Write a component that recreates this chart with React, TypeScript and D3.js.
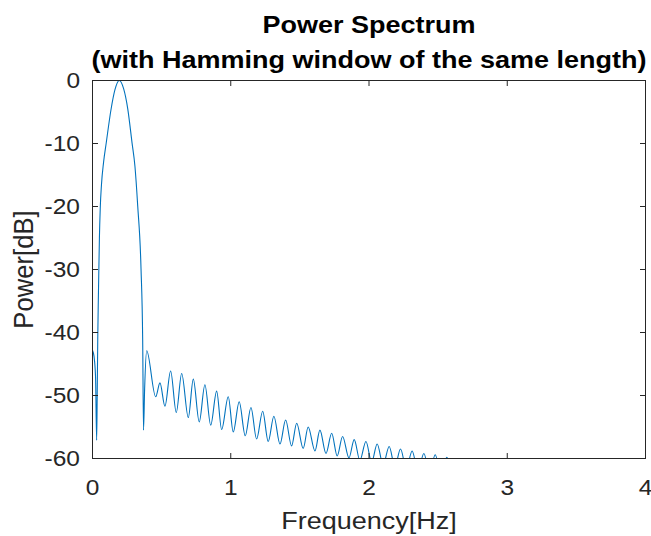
import React from 'react';
import * as d3 from 'd3';

// Main lobe readings (frequency in Hz, power in dB)
const mainLobeHz = [0, 0.011, 0.022, 0.030, 0.034, 0.038, 0.042, 0.046, 0.050, 0.056, 0.065, 0.080, 0.100, 0.134, 0.162, 0.194, 0.225, 0.255, 0.286, 0.307, 0.327, 0.351, 0.363, 0.369, 0.377];
const mainLobeDb = [-42.8, -43.8, -47.0, -57.1, -50.0, -41.0, -35.0, -29.9, -25.0, -20.3, -16.5, -13.0, -9.8, -4.6, -1.5, 0, -1.3, -4.5, -9.9, -13.6, -19.9, -29.9, -41.2, -55.5, -49.0];

// Side-lobe peaks
const peakHz = [0.392, 0.488, 0.565, 0.645, 0.729, 0.813, 0.898, 0.982, 1.061, 1.146, 1.231, 1.312, 1.397, 1.477, 1.560, 1.645, 1.730, 1.809, 1.893, 1.978, 2.059, 2.146, 2.228, 2.312, 2.397, 2.479, 2.563, 2.647];
const peakDb = [-42.9, -48.0, -46.1, -46.5, -47.4, -48.3, -49.3, -50.2, -51.0, -51.9, -52.5, -53.3, -53.9, -54.4, -55.0, -55.5, -56.0, -56.5, -57.0, -57.3, -57.7, -58.1, -58.5, -58.8, -59.2, -59.4, -59.8, -60.4];

// Side-lobe nulls
const nullHz = [0.457, 0.524, 0.606, 0.693, 0.772, 0.855, 0.934, 1.018, 1.105, 1.187, 1.271, 1.356, 1.440, 1.524, 1.609, 1.689, 1.770, 1.855, 1.934, 2.019, 2.102, 2.187, 2.270, 2.354, 2.438, 2.521, 2.605, 2.690];
const nullDb = [-50.2, -51.7, -52.7, -53.5, -54.2, -54.7, -55.4, -55.8, -56.4, -56.9, -57.3, -57.7, -58.0, -58.4, -58.8, -59.2, -59.6, -59.9, -60.3, -60.6, -61.0, -61.3, -61.6, -62.0, -62.3, -62.7, -63.0, -63.4];

const xTicks = [0, 1, 2, 3, 4];
const yTicks = [0, -10, -20, -30, -40, -50, -60];

const titleLines = ['Power Spectrum', '(with Hamming window of the same length)'];
const xLabel = 'Frequency[Hz]';
const yLabel = 'Power[dB]';

const W = 651;
const H = 536;
const L = 92.5, R = 645.5, T = 80.5, B = 458.5;
const FONT = "'Liberation Sans', Arial, Helvetica, sans-serif";
const SQ = 0.87;
const AX = '#262626';

export default function App() {
  const x = d3.scaleLinear().domain([0, 4]).range([L, R]);
  const y = d3.scaleLinear().domain([-60, 0]).range([B, T]);

  const pts: [number, number][] = [];
  mainLobeHz.forEach((f, i) => pts.push([f, mainLobeDb[i]]));
  peakHz.forEach((f, i) => pts.push([f, peakDb[i]]));
  nullHz.forEach((f, i) => pts.push([f, nullDb[i]]));
  pts.sort((a, b) => a[0] - b[0]);

  const line = d3.line<[number, number]>()
    .x(d => x(d[0]))
    .y(d => y(d[1]))
    .curve(d3.curveMonotoneX);

  const tl = 5.5;

  return (
    <svg width={W} height={H} style={{ position: 'absolute', left: 0, top: 0, background: '#fff' }} fontFamily={FONT}>
      <defs>
        <clipPath id="plotclip">
          <rect x={L} y={T} width={R - L} height={B - T} />
        </clipPath>
      </defs>
      <rect x={0} y={0} width={W} height={H} fill="#fff" />
      <path d={line(pts) || ''} fill="none" stroke="#0072BD" strokeWidth={1.1} clipPath="url(#plotclip)" />
      <rect x={L} y={T} width={R - L} height={B - T} fill="none" stroke={AX} strokeWidth={1} />
      {xTicks.map(t => (
        <g key={'x' + t}>
          <line x1={x(t)} x2={x(t)} y1={B} y2={B - tl} stroke={AX} />
          <line x1={x(t)} x2={x(t)} y1={T} y2={T + tl} stroke={AX} />
          <text transform={`translate(${x(t)},495) scale(1,${SQ})`} textAnchor="middle" fontSize={24.5} fill={AX}>{t}</text>
        </g>
      ))}
      {yTicks.map(t => (
        <g key={'y' + t}>
          <line x1={L} x2={L + tl} y1={y(t)} y2={y(t)} stroke={AX} />
          <line x1={R} x2={R - tl} y1={y(t)} y2={y(t)} stroke={AX} />
          <text transform={`translate(80,${y(t) + 7.6}) scale(1,${SQ})`} textAnchor="end" fontSize={24.5} fill={AX}>{t}</text>
        </g>
      ))}
      <text transform={`translate(${(L + R) / 2},529) scale(1,${SQ})`} textAnchor="middle" fontSize={27} fill={AX}>{xLabel}</text>
      <text transform={`translate(33,${(T + B) / 2}) rotate(-90) scale(0.95,1)`} textAnchor="middle" fontSize={27} fill={AX}>{yLabel}</text>
      {titleLines.map((s, i) => (
        <text key={i} transform={`translate(${(L + R) / 2},${33 + i * 35}) scale(1,${SQ})`} textAnchor="middle" fontSize={27} fontWeight="bold" fill="#000">{s}</text>
      ))}
    </svg>
  );
}
